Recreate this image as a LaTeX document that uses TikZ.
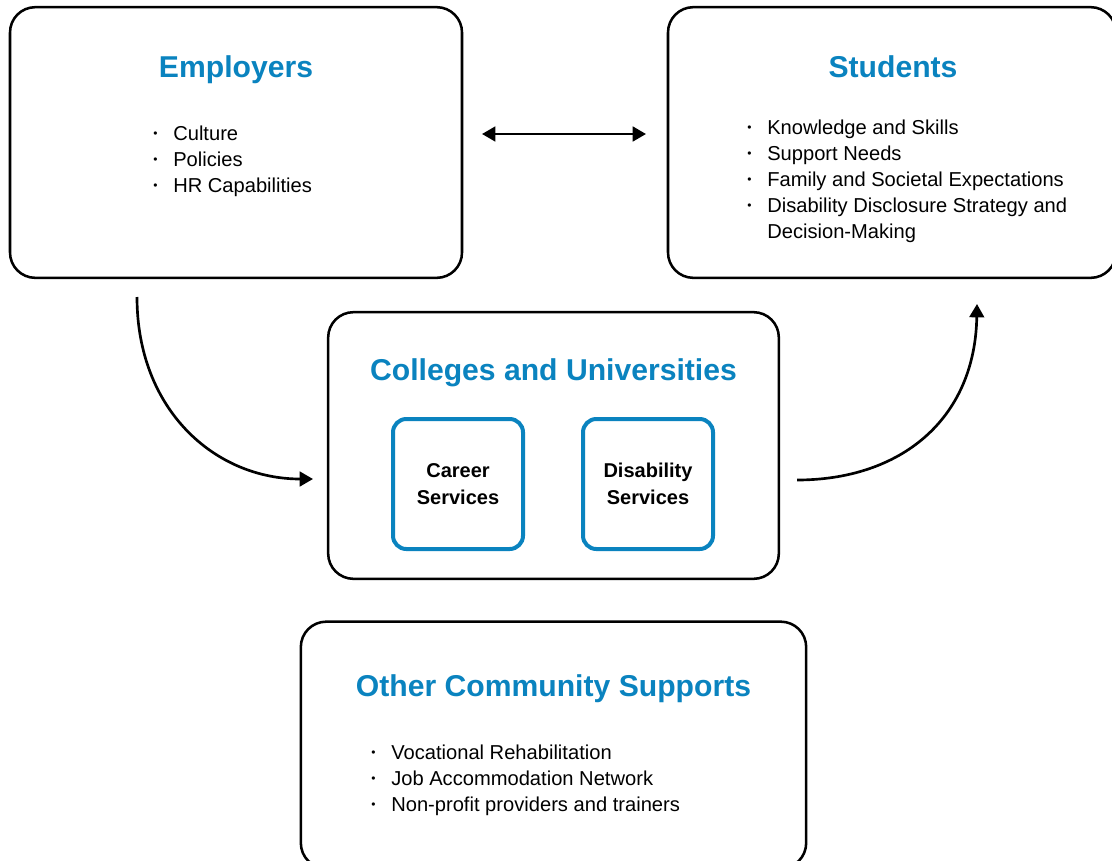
\documentclass[tikz,border=0pt]{standalone}
\usepackage{fontspec}
\setmainfont{Liberation Sans}
\usetikzlibrary{arrows.meta}
\definecolor{titleblue}{HTML}{0A83BF}
\newcommand\bul{\makebox[15pt][l]{\raisebox{0.25ex}{\fontsize{9}{9}\selectfont •}}}
\begin{document}
\begin{tikzpicture}[x=0.75pt,y=-0.75pt,
  panel/.style={draw=black, line width=1.9pt, rounded corners=19pt, inner sep=0pt},
  unitbox/.style={draw=titleblue, line width=3pt, rounded corners=10pt, inner sep=0pt,
    minimum width=97.5pt, minimum height=97.5pt, align=center,
    font=\fontsize{15}{20}\selectfont\bfseries},
  heading/.style={anchor=base, text=titleblue, font=\fontsize{22.6}{27}\selectfont\bfseries},
  itemlist/.style={anchor=base west, inner sep=0pt, font=\fontsize{15.1}{19.5}\selectfont},
  tip/.style={Triangle[length=10pt,width=11pt]},
  link/.style={line width=2pt, -{Triangle[length=10pt,width=11pt]}}
]
\useasboundingbox (0,0) rectangle (1112,860);
\clip (0,0) rectangle (1112,860);

% outer panels
\node[panel, minimum width=339pt, minimum height=203pt] (emp) at (236,142.5) {};
\node[panel, minimum width=336pt, minimum height=203pt] (stu) at (892,142.5) {};
\node[panel, minimum width=338pt, minimum height=200pt] (col) at (553.5,445.5) {};
\node[panel, minimum width=379pt, minimum height=185pt] (oth) at (553.5,745) {};

% inner service units
\node[unitbox] (career) at (458,484) {Career\\Services};
\node[unitbox] (disab) at (648,484) {Disability\\Services};

% headings
\node[heading] (empT) at (236,77) {Employers};
\node[heading] (stuT) at (893,77) {Students};
\node[heading] (colT) at (553.5,380) {Colleges and Universities};
\node[heading] (othT) at (553.5,696) {Other Community Supports};

% bullet lists
\node[itemlist] (empL) at (153,140) {\begin{tabular}[t]{@{}l@{}l@{}}
\bul & Culture\\
\bul & Policies\\
\bul & HR Capabilities
\end{tabular}};
\node[itemlist] (stuL) at (747,134) {\begin{tabular}[t]{@{}l@{}l@{}}
\bul & Knowledge and Skills\\
\bul & Support Needs\\
\bul & Family and Societal Expectations\\
\bul & Disability Disclosure Strategy and\\
 & Decision-Making
\end{tabular}};
\node[itemlist] (othL) at (371,759) {\begin{tabular}[t]{@{}l@{}l@{}}
\bul & Vocational Rehabilitation\\
\bul & Job Accommodation Network\\
\bul & Non-profit providers and trainers
\end{tabular}};

% connectors
\coordinate (empOut) at (137,297);
\coordinate (colIn) at (313,479);
\coordinate (colOut) at (797,480);
\coordinate (stuIn) at (977,304);
\coordinate (ab1) at (482,134);
\coordinate (ab2) at (646,134);
\draw[line width=2pt, {Triangle[length=10pt,width=11pt]}-{Triangle[length=10pt,width=11pt]}] (ab1) -- (ab2);
\draw[link] (empOut) .. controls (137,410) and (215,479) .. (colIn);
\draw[link] (colOut) .. controls (900,480) and (975,420) .. (stuIn);
\end{tikzpicture}
\end{document}
